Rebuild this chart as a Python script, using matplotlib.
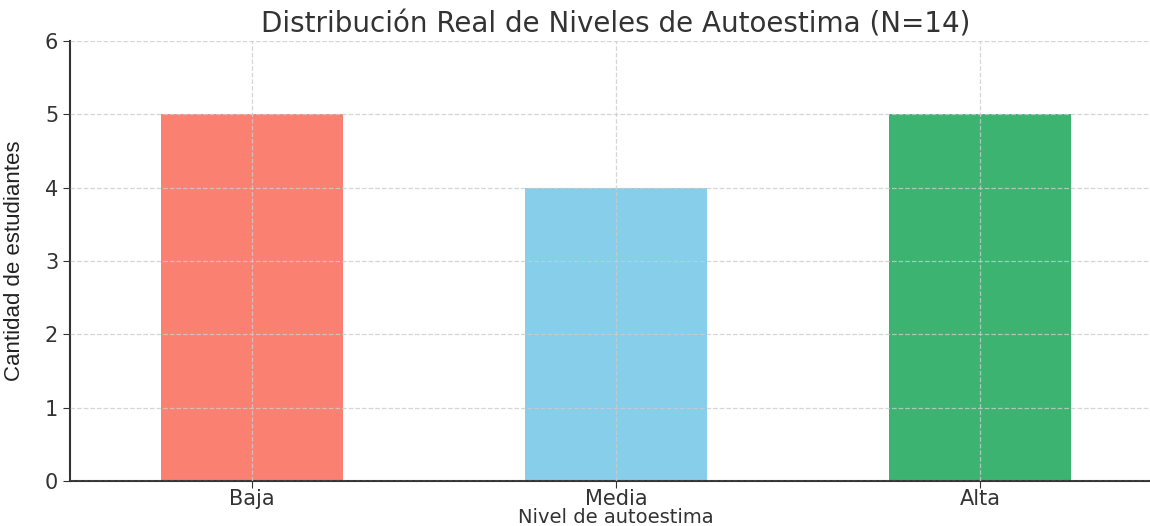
import matplotlib
matplotlib.use("Agg")
import matplotlib.pyplot as plt

# datos
niveles = ["Baja", "Media", "Alta"]
cantidades = [5, 4, 5]
colores = ["#FA8072", "#87CEEB", "#3CB371"]

fig = plt.figure(figsize=(11.5, 5.26), dpi=100)
ax = fig.add_axes([70 / 1150, 45 / 526, 1092 / 1150, 440 / 526])

ax.bar(niveles, cantidades, width=0.5, color=colores, zorder=1)

ax.set_xlim(-0.5, 2.5)
ax.set_ylim(0, 6)
ax.set_yticks(range(0, 7))

# grid encima de las barras, gris claro punteado
ax.grid(True, linestyle="--", color="#cccccc", linewidth=0.9, alpha=0.8, zorder=3)
ax.set_axisbelow(False)

for s in ["top", "right"]:
    ax.spines[s].set_visible(False)
for s in ["left", "bottom"]:
    ax.spines[s].set_color("#333333")
    ax.spines[s].set_linewidth(1.5)

ax.tick_params(axis="both", labelsize=15, colors="#333333", length=5)
ax.tick_params(axis="x", pad=1)

ax.set_title("Distribución Real de Niveles de Autoestima (N=14)",
             fontsize=20, color="#333333", pad=6)
ax.set_xlabel("Nivel de autoestima", fontsize=14, color="#333333", labelpad=-1)
ax.set_ylabel("Cantidad de estudiantes", fontsize=16, color="#222222",
              family=["Liberation Sans", "DejaVu Sans"], labelpad=14)

fig.savefig("out.png", dpi=100)
